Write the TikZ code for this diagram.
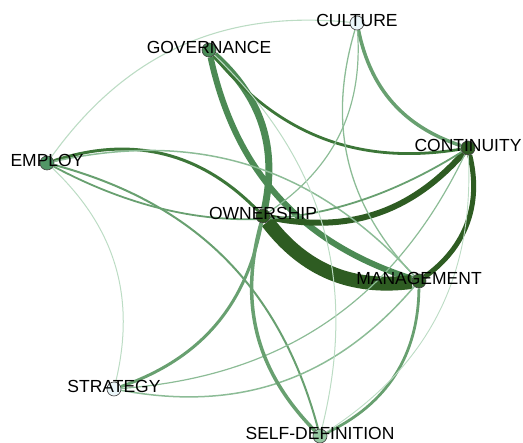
\documentclass[tikz,border=0pt]{standalone}
\usepackage{fontspec}
\setmainfont{Liberation Sans}
\usetikzlibrary{backgrounds}

\definecolor{edgeA}{RGB}{46,92,34}
\definecolor{edgeB}{RGB}{60,118,56}
\definecolor{edgeC}{RGB}{76,138,84}
\definecolor{edgeD}{RGB}{104,160,112}
\definecolor{edgeE}{RGB}{140,188,150}
\definecolor{edgeF}{RGB}{188,220,196}
\definecolor{paleblue}{RGB}{234,245,249}

\tikzset{
  vert/.style={circle,draw=black!75,line width=0.6pt,minimum size=14pt,inner sep=0pt},
  lbl/.style={font=\fontsize{17.5}{20}\selectfont,inner sep=0pt,yshift=3pt},
  heavy/.style={draw=edgeA},
  strong/.style={draw=edgeB},
  mid/.style={draw=edgeC},
  light/.style={draw=edgeD},
  pale/.style={draw=edgeE},
  faint/.style={draw=edgeF,line width=1pt}
}

\begin{document}
\begin{tikzpicture}[x=1pt,y=-1pt]
\useasboundingbox (0,0) rectangle (523,443);

\begin{scope}[every node/.style={vert}]
    \node[fill=paleblue] (cul) at (357,23) {};
    \node[fill={rgb,255:red,72;green,138;blue,86}] (gov) at (209,50) {};
    \node[fill={rgb,255:red,82;green,150;blue,102}] (emp) at (47,163) {};
    \node[fill=edgeA] (con) at (468,148) {};
    \node[fill=edgeA] (own) at (263,216) {};
    \node[fill={rgb,255:red,52;green,100;blue,44}] (man) at (419,281) {};
    \node[fill=paleblue] (str) at (114,389) {};
    \node[fill={rgb,255:red,150;green,200;blue,162}] (sd) at (320,436) {};
\end{scope}

\begin{scope}[every node/.style={lbl}]
    \node (cul-l) at (cul) {CULTURE};
    \node (gov-l) at (gov) {GOVERNANCE};
    \node (emp-l) at (emp) {EMPLOY};
    \node (con-l) at (con) {CONTINUITY};
    \node (own-l) at (own) {OWNERSHIP};
    \node (man-l) at (man) {MANAGEMENT};
    \node (str-l) at (str) {STRATEGY};
    \node (sd-l) at (sd) {SELF-DEFINITION};
\end{scope}

\begin{scope}[on background layer]
    \path (emp) edge[faint,line width=1.1pt,bend left=30] (cul);
    \path (gov) edge[mid,line width=7pt,bend left=30] (own);
    \path (gov) edge[mid,line width=6pt,bend right=30] (man);
    \path (gov) edge[strong,line width=2.8pt,bend right=30] (con);
    \path (own) edge[heavy,line width=6pt,bend right=30] (con);
    \path (own) edge[heavy,line width=14pt,bend right=30] (man);
    \path (con) edge[heavy,line width=5pt,bend left=34] (man);
    \path (cul) edge[light,line width=3.5pt,bend right=30] (con);
    \path (cul) edge[pale,line width=1.2pt,bend left=30] (own);
    \path (cul) edge[pale,line width=1.3pt,bend right=30] (man);
    \path (emp) edge[strong,line width=3pt,bend left=32] (own);
    \path (emp) edge[pale,line width=1.5pt,bend left=30] (man);
    \path (emp) edge[light,line width=1.8pt,bend right=30] (con);
    \path (emp) edge[light,line width=2pt,bend left=30] (sd);
    \path (emp) edge[faint,bend left=30] (str);
    \path (str) edge[light,line width=3pt,bend right=30] (own);
    \path (str) edge[pale,line width=1.2pt,bend right=30] (con);
    \path (str) edge[pale,line width=1.5pt,bend right=30] (man);
    \path (own) edge[light,line width=3.5pt,bend right=30] (sd);
    \path (man) edge[light,line width=2.8pt,bend left=32] (sd);
    \path (con) edge[faint,line width=0.9pt,bend left=30] (sd);
    \path (gov) edge[faint,bend left=30] (sd);
\end{scope}
\end{tikzpicture}
\end{document}
